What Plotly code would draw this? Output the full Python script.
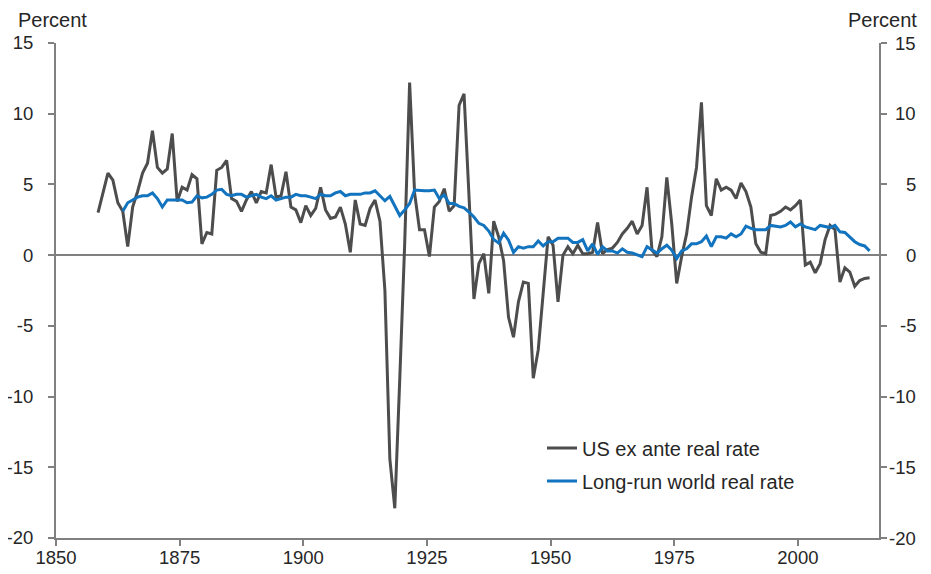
import plotly.graph_objects as go

# ---------------- data ----------------
us_years = list(range(1858, 2015))
us_real_rate = [
    3.0, 4.5,
    5.8, 5.3, 3.7, 3.1, 0.6, 3.4, 4.5, 5.8, 6.5, 8.8,
    6.2, 5.8, 6.1, 8.6, 3.8, 4.8, 4.6, 5.7, 5.4, 0.8,
    1.6, 1.5, 6.0, 6.2, 6.7, 4.0, 3.8, 3.1, 3.9, 4.5,
    3.7, 4.5, 4.4, 6.4, 4.1, 4.2, 5.9, 3.4, 3.2, 2.3,
    3.5, 2.8, 3.3, 4.8, 3.2, 2.6, 2.7, 3.4, 2.2, 0.2,
    3.9, 2.2, 2.1, 3.3, 3.9, 2.4, -2.5, -14.4, -17.9, -8.8,
    0.8, 12.2, 4.4, 1.8, 1.8, -0.1, 3.4, 3.8, 4.7, 3.1,
    3.5, 10.6, 11.4, 4.2, -3.1, -0.6, 0.1, -2.7, 2.4, 1.3,
    -0.4, -4.4, -5.8, -3.3, -1.9, -2.0, -8.7, -6.7, -2.5, 1.3,
    0.7, -3.3, 0.0, 0.6, 0.1, 0.7, 0.1, 0.1, 0.2, 2.3,
    0.1, 0.4, 0.5, 0.9, 1.5, 1.9, 2.4, 1.5, 2.1, 4.8,
    0.35, -0.1, 1.3, 5.5, 2.2, -2.0, -0.1, 1.5, 4.1, 6.2,
    10.8, 3.5, 2.8, 5.4, 4.6, 4.8, 4.6, 4.0, 5.1, 4.5,
    3.4, 0.8, 0.2, 0.1, 2.8, 2.9, 3.1, 3.4, 3.2, 3.5,
    3.9, -0.7, -0.5, -1.25, -0.6, 1.1, 2.1, 1.8, -1.9, -0.9,
    -1.2, -2.2, -1.8, -1.65, -1.6,
]

world_years = list(range(1863, 2015))
world_real_rate = [
    3.1, 3.7, 3.9, 4.1, 4.2, 4.2, 4.4,
    4.0, 3.4, 3.9, 3.9, 3.9, 3.9, 3.7, 3.75, 4.2, 4.05,
    4.1, 4.3, 4.6, 4.65, 4.3, 4.2, 4.3, 4.3, 4.1, 4.2,
    4.3, 4.1, 4.0, 4.2, 3.9, 4.0, 4.1, 4.1, 4.3, 4.2,
    4.2, 4.1, 4.0, 4.3, 4.2, 4.2, 4.4, 4.5, 4.2, 4.3,
    4.3, 4.3, 4.4, 4.4, 4.55, 4.2, 3.85, 4.15, 3.5, 2.8,
    3.2, 3.65, 4.6, 4.55, 4.55, 4.55, 4.6, 4.0, 4.25, 3.65,
    3.65, 3.45, 3.35, 3.05, 2.7, 2.25, 2.1, 1.7, 1.1, 0.85,
    1.55, 1.06, 0.2, 0.6, 0.5, 0.6, 0.6, 1.0, 0.65, 0.95,
    0.95, 1.2, 1.2, 1.2, 0.9, 0.9, 1.1, 0.3, 0.8, 0.05,
    0.6, 0.3, 0.3, 0.15, 0.45, 0.2, 0.15, 0.0, -0.1, 0.6,
    0.4, 0.15, 0.45, 0.7, 0.35, -0.25, 0.3, 0.45, 0.8, 0.8,
    0.95, 1.35, 0.6, 1.3, 1.3, 1.2, 1.5, 1.3, 1.5, 2.05,
    1.9, 1.8, 1.8, 1.8, 2.1, 2.05, 2.0, 2.1, 2.35, 2.0,
    2.2, 2.0, 1.9, 1.8, 2.1, 2.05, 1.95, 2.1, 1.65, 1.6,
    1.25, 0.95, 0.75, 0.65, 0.3,
]

x_ticks = [1850, 1875, 1900, 1925, 1950, 1975, 2000]
y_ticks = [-20, -15, -10, -5, 0, 5, 10, 15]
y_tick_text = ["-20", "-15", "-10", "-5", "0", "5", "10", "15"]

series_names = ["US ex ante real rate", "Long-run world real rate"]
axis_title = "Percent"

# annual observations are placed at mid-year on the time axis
MID_YEAR = 0.5

# ---------------- style ----------------
GRAY = "#4d4d4d"
BLUE = "#1273be"
AXIS = "#808080"
TEXT = "#262626"
FONT = "Liberation Sans, Arial, sans-serif"
TICK_SIZE = 18.5
TEXT_SIZE = 20

# page body has an 8px margin, so the figure is shifted to compensate
OFF = 8
PAGE_W, PAGE_H = 931, 574
# plot area in page pixels
PL, PR, PT, PB = 56, 879, 43, 538
W, H = PAGE_W - 2 * OFF, PAGE_H - OFF
L, T = PL - OFF, PT - OFF
R = W - (PR - OFF)
B = H - (PB - OFF)
plot_w = PR - PL
plot_h = PB - PT


def px_x(xp):
    return (xp - PL) / plot_w


def px_y(yp):
    return (PB - yp) / plot_h


fig = go.Figure()
fig.add_trace(go.Scatter(
    x=[yr + MID_YEAR for yr in us_years], y=us_real_rate, mode="lines",
    name=series_names[0], line=dict(color=GRAY, width=3), legendgroup="a", yaxis="y",
))
fig.add_trace(go.Scatter(
    x=[yr + MID_YEAR for yr in world_years], y=world_real_rate, mode="lines",
    name=series_names[1], line=dict(color=BLUE, width=3), legendgroup="b", yaxis="y2",
))

axis_common = dict(
    range=[-20, 15], tickvals=y_ticks, ticktext=y_tick_text,
    showgrid=False, showline=True, linecolor=AXIS, linewidth=2,
    ticks="outside", ticklen=6, tickwidth=2, tickcolor=AXIS,
    tickfont=dict(size=TICK_SIZE, color=TEXT, family=FONT),
    automargin=False,
)

annotations = []
# right axis labels, right-aligned as in the reference
for v, t in zip(y_ticks, y_tick_text):
    annotations.append(dict(
        x=px_x(918), xref="paper", y=v, yref="y",
        text=t, showarrow=False, xanchor="right", yanchor="middle",
        font=dict(size=TICK_SIZE, color=TEXT, family=FONT),
    ))
# axis titles
annotations.append(dict(
    x=px_x(16), xref="paper", y=px_y(20), yref="paper",
    text=axis_title, showarrow=False, xanchor="left", yanchor="middle",
    font=dict(size=TEXT_SIZE, color=TEXT, family=FONT),
))
annotations.append(dict(
    x=px_x(919), xref="paper", y=px_y(20), yref="paper",
    text=axis_title, showarrow=False, xanchor="right", yanchor="middle",
    font=dict(size=TEXT_SIZE, color=TEXT, family=FONT),
))

fig.update_layout(
    template="none",
    width=W, height=H,
    margin=dict(l=L, r=R, t=T, b=B, pad=0, autoexpand=False),
    paper_bgcolor="white", plot_bgcolor="white",
    font=dict(family=FONT, color=TEXT),
    showlegend=True,
    legend=dict(
        x=px_x(542), y=px_y(428.5), xanchor="left", yanchor="top",
        bgcolor="rgba(0,0,0,0)", borderwidth=0,
        font=dict(size=TEXT_SIZE, color=TEXT, family=FONT),
        traceorder="grouped", tracegroupgap=4, itemwidth=30,
    ),
    xaxis=dict(
        range=[1850, 2016.4], tickvals=x_ticks, showgrid=False, zeroline=False,
        showline=True, linecolor=AXIS, linewidth=2,
        ticks="outside", ticklen=6, tickwidth=2, tickcolor=AXIS,
        tickfont=dict(size=TICK_SIZE, color=TEXT, family=FONT),
        automargin=False, ticklabelstandoff=-4,
    ),
    yaxis=dict(**axis_common, side="left", zeroline=True, zerolinecolor=AXIS,
               zerolinewidth=2, ticklabelstandoff=11),
    yaxis2=dict(**axis_common, side="right", overlaying="y", zeroline=False,
                showticklabels=False),
    annotations=annotations,
)

fig.write_html("out.html")
